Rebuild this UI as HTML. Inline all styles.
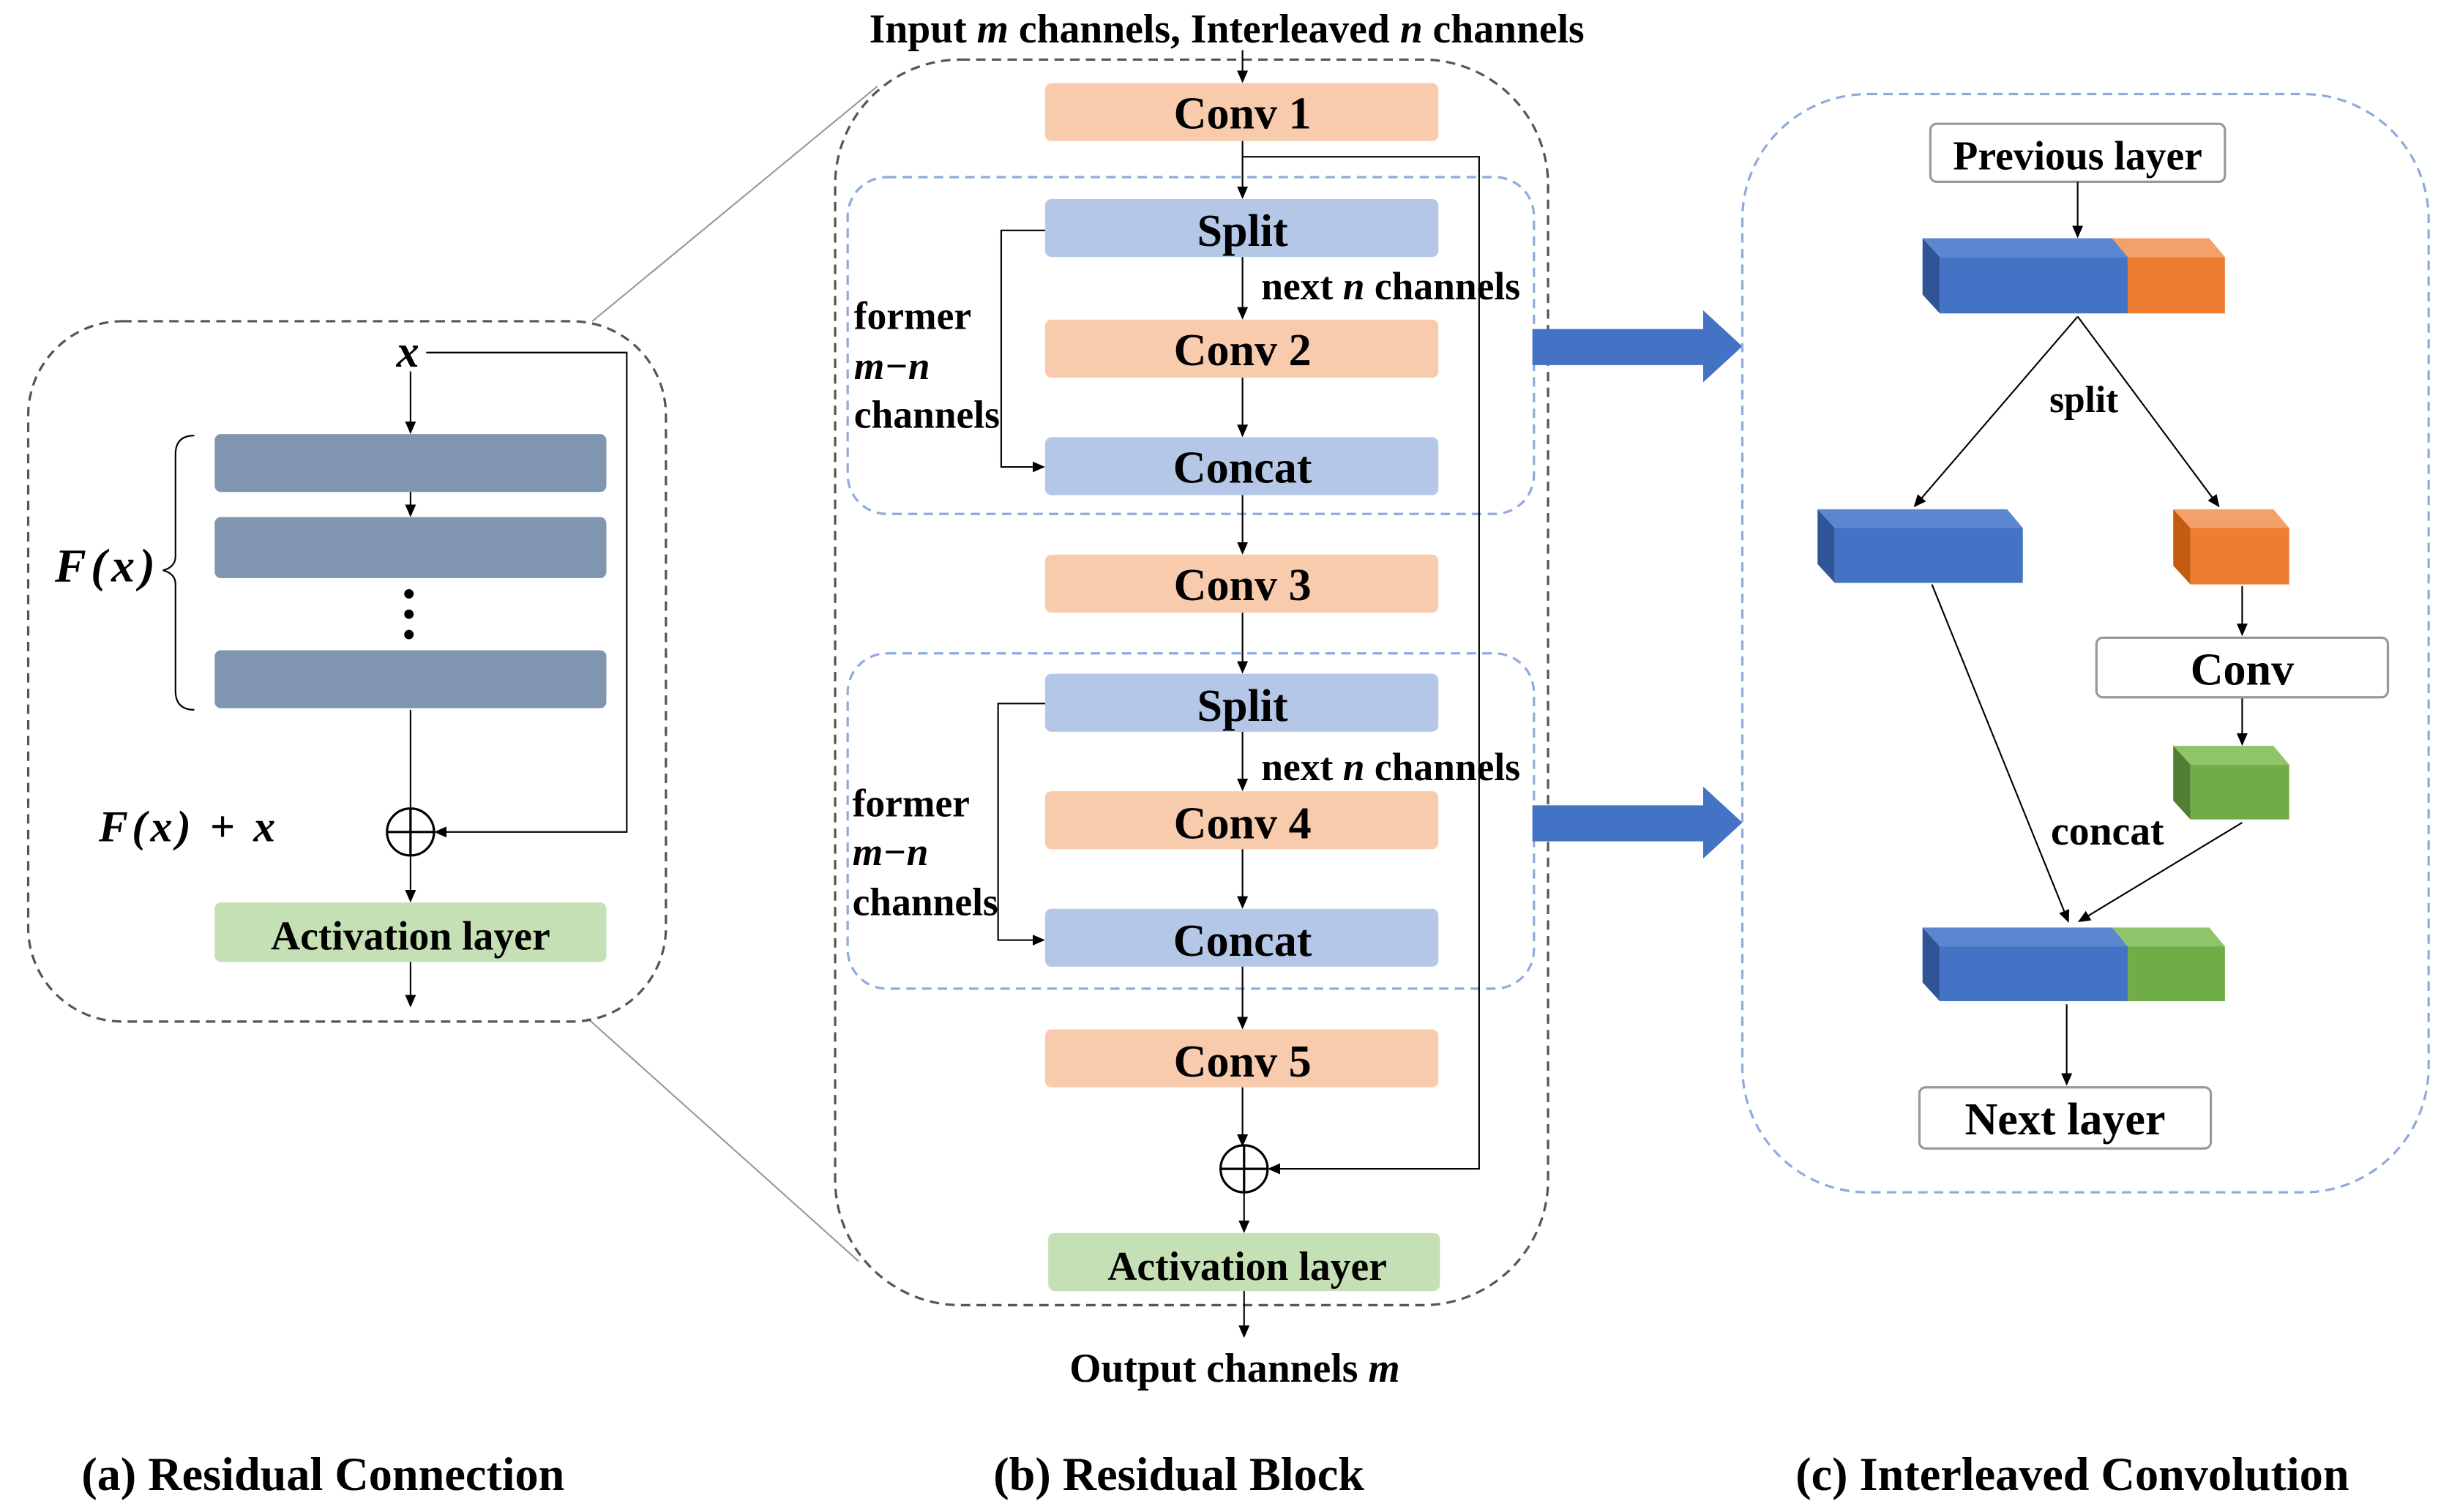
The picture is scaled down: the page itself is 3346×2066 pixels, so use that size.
<!DOCTYPE html>
<html><head><meta charset="utf-8"><style>
html,body{margin:0;padding:0;background:#fff}
svg{display:block}
text{font-family:"Liberation Serif",serif;font-weight:bold;fill:#000}
</style></head><body>
<svg width="3346" height="2066" viewBox="0 0 1563 965" xmlns="http://www.w3.org/2000/svg">
<defs>
<marker id="ar" markerWidth="8" markerHeight="8" refX="7" refY="4" orient="auto" markerUnits="userSpaceOnUse">
<path d="M0,0.5 L8,4 L0,7.5 z" fill="#000"/></marker>
</defs>
<g font-size="29">
<line x1="378" y1="205" x2="560" y2="55" stroke="#999" stroke-width="1"/>
<line x1="375" y1="650" x2="548" y2="805" stroke="#999" stroke-width="1"/>

<!-- Panel a -->
<rect x="18" y="205" width="407" height="447" rx="60" fill="none" stroke="#555" stroke-width="1.5" stroke-dasharray="6,4"/>
<rect x="137" y="277" width="250" height="37" rx="4" fill="#8096b0"/>
<rect x="137" y="330" width="250" height="39" rx="4" fill="#8096b0"/>
<rect x="137" y="415" width="250" height="37" rx="4" fill="#8096b0"/>
<circle cx="261" cy="379" r="3" fill="#000"/><circle cx="261" cy="392" r="3" fill="#000"/><circle cx="261" cy="405" r="3" fill="#000"/>
<path d="M124,278 Q112,278 112,290 L112,355 Q112,362 104,364 Q112,366 112,373 L112,441 Q112,453 124,453" fill="none" stroke="#000" stroke-width="1"/>
<text x="35" y="371" font-style="italic" font-size="30" letter-spacing="3">F(x)</text>
<text x="253" y="234" font-style="italic" font-size="29">x</text>
<line x1="262" y1="237" x2="262" y2="276" stroke="#000" marker-end="url(#ar)"/>
<polyline points="272,225 400,225 400,531 278,531" fill="none" stroke="#000" marker-end="url(#ar)"/>
<line x1="262" y1="314" x2="262" y2="329" stroke="#000" marker-end="url(#ar)"/>
<line x1="262" y1="453" x2="262" y2="516" stroke="#000"/>
<circle cx="262" cy="531" r="15" fill="#fff" stroke="#000" stroke-width="1.5"/>
<line x1="247" y1="531" x2="277" y2="531" stroke="#000" stroke-width="1.5"/><line x1="262" y1="516" x2="262" y2="546" stroke="#000" stroke-width="1.5"/>
<line x1="262" y1="546" x2="262" y2="575" stroke="#000" marker-end="url(#ar)"/>
<text x="63" y="537" font-style="italic" font-size="28" letter-spacing="2.5">F(x) + x</text>
<rect x="137" y="576" width="250" height="38" rx="4" fill="#c5e0b4"/>
<text x="262" y="606" text-anchor="middle" font-size="26">Activation layer</text>
<line x1="262" y1="614" x2="262" y2="642" stroke="#000" marker-end="url(#ar)"/>

<!-- Panel b -->
<rect x="533" y="38" width="455" height="795" rx="80" fill="none" stroke="#555" stroke-width="1.5" stroke-dasharray="6,4"/>
<rect x="541" y="113" width="438" height="215" rx="25" fill="none" stroke="#8faadc" stroke-width="1.5" stroke-dasharray="6,4"/>
<rect x="541" y="417" width="438" height="214" rx="25" fill="none" stroke="#8faadc" stroke-width="1.5" stroke-dasharray="6,4"/>
<text x="783" y="27" text-anchor="middle" font-size="26">Input <tspan font-style="italic">m</tspan> channels, Interleaved <tspan font-style="italic">n</tspan> channels</text>
<line x1="793" y1="32" x2="793" y2="52" stroke="#000" marker-end="url(#ar)"/>
<g text-anchor="middle">
<rect x="667" y="53" width="251" height="37" rx="4" fill="#f8cbad"/><text x="793" y="82">Conv 1</text>
<rect x="667" y="127" width="251" height="37" rx="4" fill="#b4c7e7"/><text x="793" y="157">Split</text>
<rect x="667" y="204" width="251" height="37" rx="4" fill="#f8cbad"/><text x="793" y="233">Conv 2</text>
<rect x="667" y="279" width="251" height="37" rx="4" fill="#b4c7e7"/><text x="793" y="308">Concat</text>
<rect x="667" y="354" width="251" height="37" rx="4" fill="#f8cbad"/><text x="793" y="383">Conv 3</text>
<rect x="667" y="430" width="251" height="37" rx="4" fill="#b4c7e7"/><text x="793" y="460">Split</text>
<rect x="667" y="505" width="251" height="37" rx="4" fill="#f8cbad"/><text x="793" y="535">Conv 4</text>
<rect x="667" y="580" width="251" height="37" rx="4" fill="#b4c7e7"/><text x="793" y="610">Concat</text>
<rect x="667" y="657" width="251" height="37" rx="4" fill="#f8cbad"/><text x="793" y="687">Conv 5</text>
<rect x="669" y="787" width="250" height="37" rx="4" fill="#c5e0b4"/><text x="796" y="817" font-size="26">Activation layer</text>
</g>
<g stroke="#000" fill="none">
<line x1="793" y1="90" x2="793" y2="126" marker-end="url(#ar)"/>
<line x1="793" y1="164" x2="793" y2="203" marker-end="url(#ar)"/>
<line x1="793" y1="241" x2="793" y2="278" marker-end="url(#ar)"/>
<line x1="793" y1="316" x2="793" y2="353" marker-end="url(#ar)"/>
<line x1="793" y1="391" x2="793" y2="429" marker-end="url(#ar)"/>
<line x1="793" y1="467" x2="793" y2="504" marker-end="url(#ar)"/>
<line x1="793" y1="542" x2="793" y2="579" marker-end="url(#ar)"/>
<line x1="793" y1="617" x2="793" y2="656" marker-end="url(#ar)"/>
<line x1="793" y1="694" x2="793" y2="731" marker-end="url(#ar)"/>
<line x1="794" y1="761" x2="794" y2="786" marker-end="url(#ar)"/>
<line x1="794" y1="824" x2="794" y2="853" marker-end="url(#ar)"/>
<polyline points="793,100 944,100 944,746 810,746" marker-end="url(#ar)"/>
<polyline points="667,147 639,147 639,298 666,298" marker-end="url(#ar)"/>
<polyline points="667,449 637,449 637,600 666,600" marker-end="url(#ar)"/>
</g>
<circle cx="794" cy="746" r="15" fill="#fff" stroke="#000" stroke-width="1.5"/>
<line x1="779" y1="746" x2="809" y2="746" stroke="#000" stroke-width="1.5"/><line x1="794" y1="731" x2="794" y2="761" stroke="#000" stroke-width="1.5"/>
<g font-size="25">
<text x="805" y="191">next <tspan font-style="italic">n</tspan> channels</text>
<text x="805" y="498">next <tspan font-style="italic">n</tspan> channels</text>
<text x="545" y="210">former</text><text x="545" y="242" font-style="italic">m−n</text><text x="545" y="273">channels</text>
<text x="544" y="521">former</text><text x="544" y="552" font-style="italic">m−n</text><text x="544" y="584">channels</text>
<text x="788" y="882" text-anchor="middle" font-size="26">Output  channels <tspan font-style="italic">m</tspan></text>
</g>

<polygon points="978,210 1087,210 1087,198 1112,221 1087,244 1087,233 978,233" fill="#4472c4"/>
<polygon points="978,514 1087,514 1087,502 1112,525 1087,548 1087,537 978,537" fill="#4472c4"/>

<!-- Panel c -->
<rect x="1112" y="60" width="438" height="701" rx="80" fill="none" stroke="#8faadc" stroke-width="1.5" stroke-dasharray="6,4"/>
<rect x="1232" y="79" width="188" height="37" rx="4" fill="#fff" stroke="#999" stroke-width="1.5"/>
<text x="1326" y="108" text-anchor="middle" font-size="26">Previous layer</text>
<line x1="1326" y1="116" x2="1326" y2="151" stroke="#000" marker-end="url(#ar)"/>
<polygon points="1227,152 1348,152 1358,164 1238,164" fill="#5b86d0"/>
<polygon points="1227,152 1238,164 1238,200 1227,188" fill="#2f5597"/>
<rect x="1238" y="164" width="120" height="36" fill="#4472c4"/>
<polygon points="1348,152 1410,152 1420,164 1358,164" fill="#f4a06a"/>
<rect x="1358" y="164" width="62" height="36" fill="#ed7d31"/>
<g stroke="#000" fill="none">
<line x1="1326" y1="202" x2="1222" y2="323" marker-end="url(#ar)"/>
<line x1="1326" y1="202" x2="1416" y2="323" marker-end="url(#ar)"/>
<line x1="1431" y1="374" x2="1431" y2="405" marker-end="url(#ar)"/>
<line x1="1431" y1="445" x2="1431" y2="475" marker-end="url(#ar)"/>
<line x1="1233" y1="373" x2="1320" y2="588" marker-end="url(#ar)"/>
<line x1="1431" y1="525" x2="1327" y2="588" marker-end="url(#ar)"/>
<line x1="1319" y1="641" x2="1319" y2="692" marker-end="url(#ar)"/>
</g>
<text x="1330" y="263" text-anchor="middle" font-size="24">split</text>
<text x="1345" y="539" text-anchor="middle" font-size="26">concat</text>
<polygon points="1160,325 1281,325 1291,337 1171,337" fill="#5b86d0"/>
<polygon points="1160,325 1171,337 1171,372 1160,360" fill="#2f5597"/>
<rect x="1171" y="337" width="120" height="35" fill="#4472c4"/>
<polygon points="1387,325 1451,325 1461,337 1398,337" fill="#f4a06a"/>
<polygon points="1387,325 1398,337 1398,373 1387,361" fill="#c55a11"/>
<rect x="1398" y="337" width="63" height="36" fill="#ed7d31"/>
<rect x="1338" y="407" width="186" height="38" rx="4" fill="#fff" stroke="#999" stroke-width="1.5"/>
<text x="1431" y="437" text-anchor="middle">Conv</text>
<polygon points="1387,476 1451,476 1461,488 1398,488" fill="#8fc46a"/>
<polygon points="1387,476 1398,488 1398,523 1387,511" fill="#507e32"/>
<rect x="1398" y="488" width="63" height="35" fill="#70ad47"/>
<polygon points="1227,592 1348,592 1358,604 1238,604" fill="#5b86d0"/>
<polygon points="1227,592 1238,604 1238,639 1227,627" fill="#2f5597"/>
<rect x="1238" y="604" width="120" height="35" fill="#4472c4"/>
<polygon points="1348,592 1410,592 1420,604 1358,604" fill="#8fc46a"/>
<rect x="1358" y="604" width="62" height="35" fill="#70ad47"/>
<rect x="1225" y="694" width="186" height="39" rx="4" fill="#fff" stroke="#999" stroke-width="1.5"/>
<text x="1318" y="724" text-anchor="middle" font-size="29">Next layer</text>

<g font-size="30">
<text x="52" y="951">(a)  Residual Connection</text>
<text x="634" y="951">(b)  Residual Block</text>
<text x="1146" y="951">(c)   Interleaved Convolution</text>
</g>
</g>
</svg>
</body></html>
